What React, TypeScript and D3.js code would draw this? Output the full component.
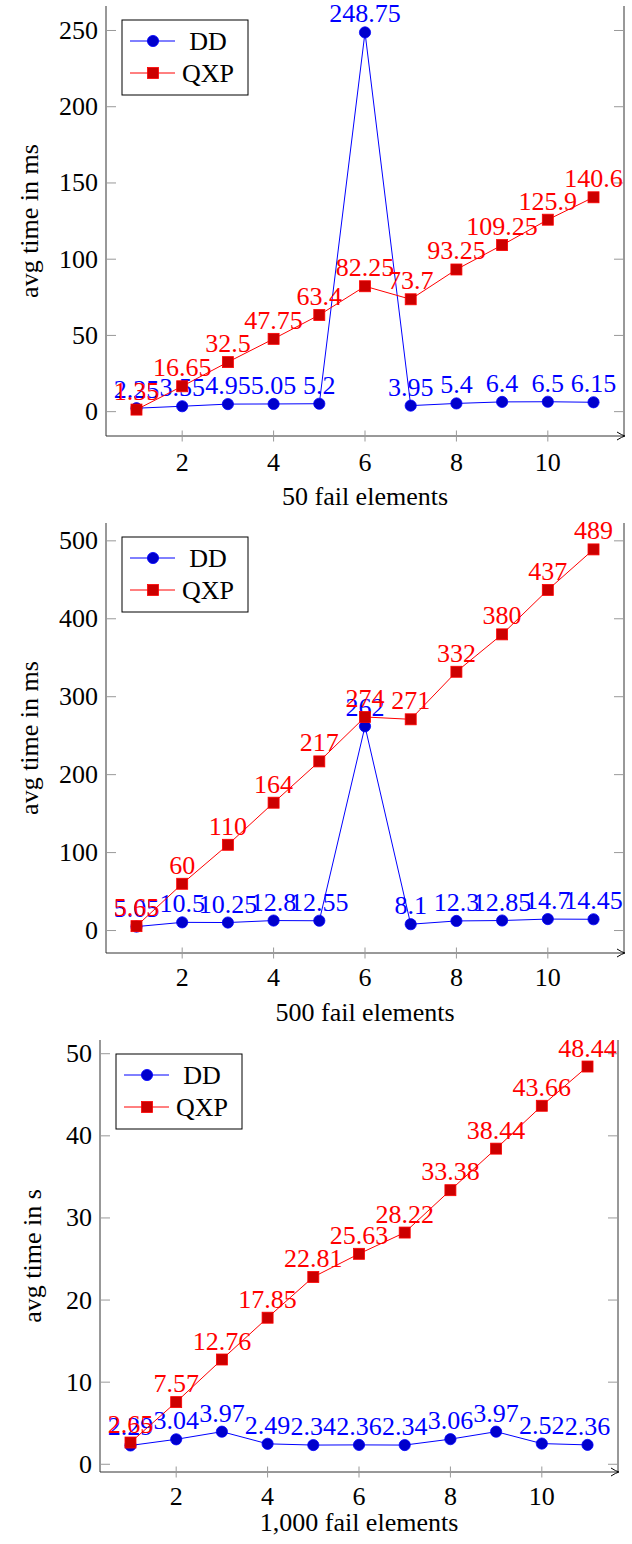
import React from 'react';
import * as d3 from 'd3';

const xs = [1, 2, 3, 4, 5, 6, 7, 8, 9, 10, 11];
const dd50 = [2.25, 3.55, 4.95, 5.05, 5.2, 248.75, 3.95, 5.4, 6.4, 6.5, 6.15];
const qxp50 = [1.35, 16.65, 32.5, 47.75, 63.4, 82.25, 73.7, 93.25, 109.25, 125.9, 140.6];
const dd500 = [5.05, 10.5, 10.25, 12.8, 12.55, 262, 8.1, 12.3, 12.85, 14.7, 14.45];
const qxp500 = [5.65, 60, 110, 164, 217, 274, 271, 332, 380, 437, 489];
const dd1000 = [2.29, 3.04, 3.97, 2.49, 2.34, 2.36, 2.34, 3.06, 3.97, 2.52, 2.36];
const qxp1000 = [2.65, 7.57, 12.76, 17.85, 22.81, 25.63, 28.22, 33.38, 38.44, 43.66, 48.44];
const xTicks = [2, 4, 6, 8, 10];
const yTicks50 = [0, 50, 100, 150, 200, 250];
const yTicks500 = [0, 100, 200, 300, 400, 500];
const yTicks1000 = [0, 10, 20, 30, 40, 50];
const seriesNames = ['DD', 'QXP'];
const xLabels = ['50 fail elements', '500 fail elements', '1,000 fail elements'];
const yLabels = ['avg time in ms', 'avg time in ms', 'avg time in s'];

const FONT = "'Liberation Serif', 'DejaVu Serif', serif";
const FS = 26;
const BLUE = '#0000ff';
const BLUE_M = '#0000cc';
const RED = '#ff0000';
const RED_M = '#cc0000';
const AXIS = '#333333';
const TICK = '#999999';

type PanelProps = {
  left: number; right: number; top: number; bottom: number;
  dd: number[]; qxp: number[]; yTicks: number[];
  xLabel: string; yLabel: string; yLabelX: number;
  tickDy: number; labelDy: number;
};

const tStyle = { fontFamily: FONT, fontSize: FS };

function Panel({ left, right, top, bottom, dd, qxp, yTicks, xLabel, yLabel, yLabelX, tickDy, labelDy }: PanelProps) {
  const x = d3.scaleLinear().domain([1 - 0.667, 11 + 0.667]).range([left, right]);
  const all = dd.concat(qxp);
  const mn = d3.min(all) as number;
  const mx = d3.max(all) as number;
  const pad = (mx - mn) * 0.07;
  const y = d3.scaleLinear().domain([mn - pad, mx + pad]).range([bottom, top]);
  const line = d3.line<number>().x((_, i) => x(xs[i])).y((d) => y(d));
  const fmt = (v: number) => String(v);
  const r = 5.6;
  const sq = 11;
  const lgX = left + 16;
  const lgY = top + 14;
  return (
    <g>
      <line x1={left} x2={left} y1={top} y2={bottom} stroke={AXIS} strokeWidth={1} />
      <line x1={right} x2={right} y1={top} y2={bottom} stroke={AXIS} strokeWidth={1} />
      <line x1={left} x2={right} y1={bottom} y2={bottom} stroke={AXIS} strokeWidth={1} />
      <path d={`M${right - 7},${bottom - 4} Q${right - 2},${bottom - 0.8} ${right + 1},${bottom} Q${right - 2},${bottom + 0.8} ${right - 7},${bottom + 4}`} fill="none" stroke="#000" strokeWidth={1} />
      {yTicks.map((t) => (
        <g key={'y' + t}>
          <line x1={left} x2={left + 10} y1={y(t)} y2={y(t)} stroke={TICK} strokeWidth={1} />
          <line x1={right - 10} x2={right} y1={y(t)} y2={y(t)} stroke={TICK} strokeWidth={1} />
          <text x={left - 8} y={y(t) + 8.5} textAnchor="end" style={tStyle} fill="#000">{t}</text>
        </g>
      ))}
      {xTicks.map((t) => (
        <g key={'x' + t}>
          <line x1={x(t)} x2={x(t)} y1={bottom - 5.5} y2={bottom + 5.5} stroke={TICK} strokeWidth={1} />
          <text x={x(t)} y={bottom + tickDy} textAnchor="middle" style={tStyle} fill="#000">{t}</text>
        </g>
      ))}
      <text x={(left + right) / 2} y={bottom + labelDy} textAnchor="middle" style={tStyle} fill="#000">{xLabel}</text>
      <text transform={`translate(${yLabelX},${(top + bottom) / 2}) rotate(-90)`} textAnchor="middle" style={tStyle} fill="#000">{yLabel}</text>

      <path d={line(dd) || ''} fill="none" stroke={BLUE} strokeWidth={1} />
      {dd.map((v, i) => (
        <circle key={'dc' + i} cx={x(xs[i])} cy={y(v)} r={r} fill={BLUE_M} stroke={BLUE} strokeWidth={0.8} />
      ))}
      {dd.map((v, i) => (
        <text key={'dt' + i} x={x(xs[i])} y={y(v) - 10} textAnchor="middle" style={tStyle} fill={BLUE}>{fmt(v)}</text>
      ))}

      <path d={line(qxp) || ''} fill="none" stroke={RED} strokeWidth={1} />
      {qxp.map((v, i) => (
        <rect key={'qr' + i} x={x(xs[i]) - sq / 2} y={y(v) - sq / 2} width={sq} height={sq} fill={RED_M} stroke={RED} strokeWidth={0.8} />
      ))}
      {qxp.map((v, i) => (
        <text key={'qt' + i} x={x(xs[i])} y={y(v) - 10} textAnchor="middle" style={tStyle} fill={RED}>{fmt(v)}</text>
      ))}

      <rect x={lgX} y={lgY} width={126} height={75} fill="#fff" stroke="#000" strokeWidth={1} />
      <line x1={lgX + 8} x2={lgX + 53} y1={lgY + 21} y2={lgY + 21} stroke={BLUE} strokeWidth={1} />
      <circle cx={lgX + 31} cy={lgY + 21} r={r} fill={BLUE_M} stroke={BLUE} strokeWidth={0.8} />
      <text x={lgX + 86} y={lgY + 30} textAnchor="middle" style={tStyle} fill="#000">{seriesNames[0]}</text>
      <line x1={lgX + 8} x2={lgX + 53} y1={lgY + 53} y2={lgY + 53} stroke={RED} strokeWidth={1} />
      <rect x={lgX + 31 - sq / 2} y={lgY + 53 - sq / 2} width={sq} height={sq} fill={RED_M} stroke={RED} strokeWidth={0.8} />
      <text x={lgX + 86} y={lgY + 62} textAnchor="middle" style={tStyle} fill="#000">{seriesNames[1]}</text>
    </g>
  );
}

export default function App() {
  return (
    <svg width={632} height={1544} style={{ position: 'absolute', left: 0, top: 0, background: '#fff' }}>
      <rect x={0} y={0} width={632} height={1544} fill="#fff" />
      <Panel left={106} right={624} top={6} bottom={436} dd={dd50} qxp={qxp50} yTicks={yTicks50} xLabel={xLabels[0]} yLabel={yLabels[0]} yLabelX={38} tickDy={35} labelDy={69} />
      <Panel left={106} right={624} top={523} bottom={953} dd={dd500} qxp={qxp500} yTicks={yTicks500} xLabel={xLabels[1]} yLabel={yLabels[1]} yLabelX={38} tickDy={33} labelDy={68} />
      <Panel left={100} right={618} top={1040} bottom={1472} dd={dd1000} qxp={qxp1000} yTicks={yTicks1000} xLabel={xLabels[2]} yLabel={yLabels[2]} yLabelX={41} tickDy={33} labelDy={59} />
    </svg>
  );
}
